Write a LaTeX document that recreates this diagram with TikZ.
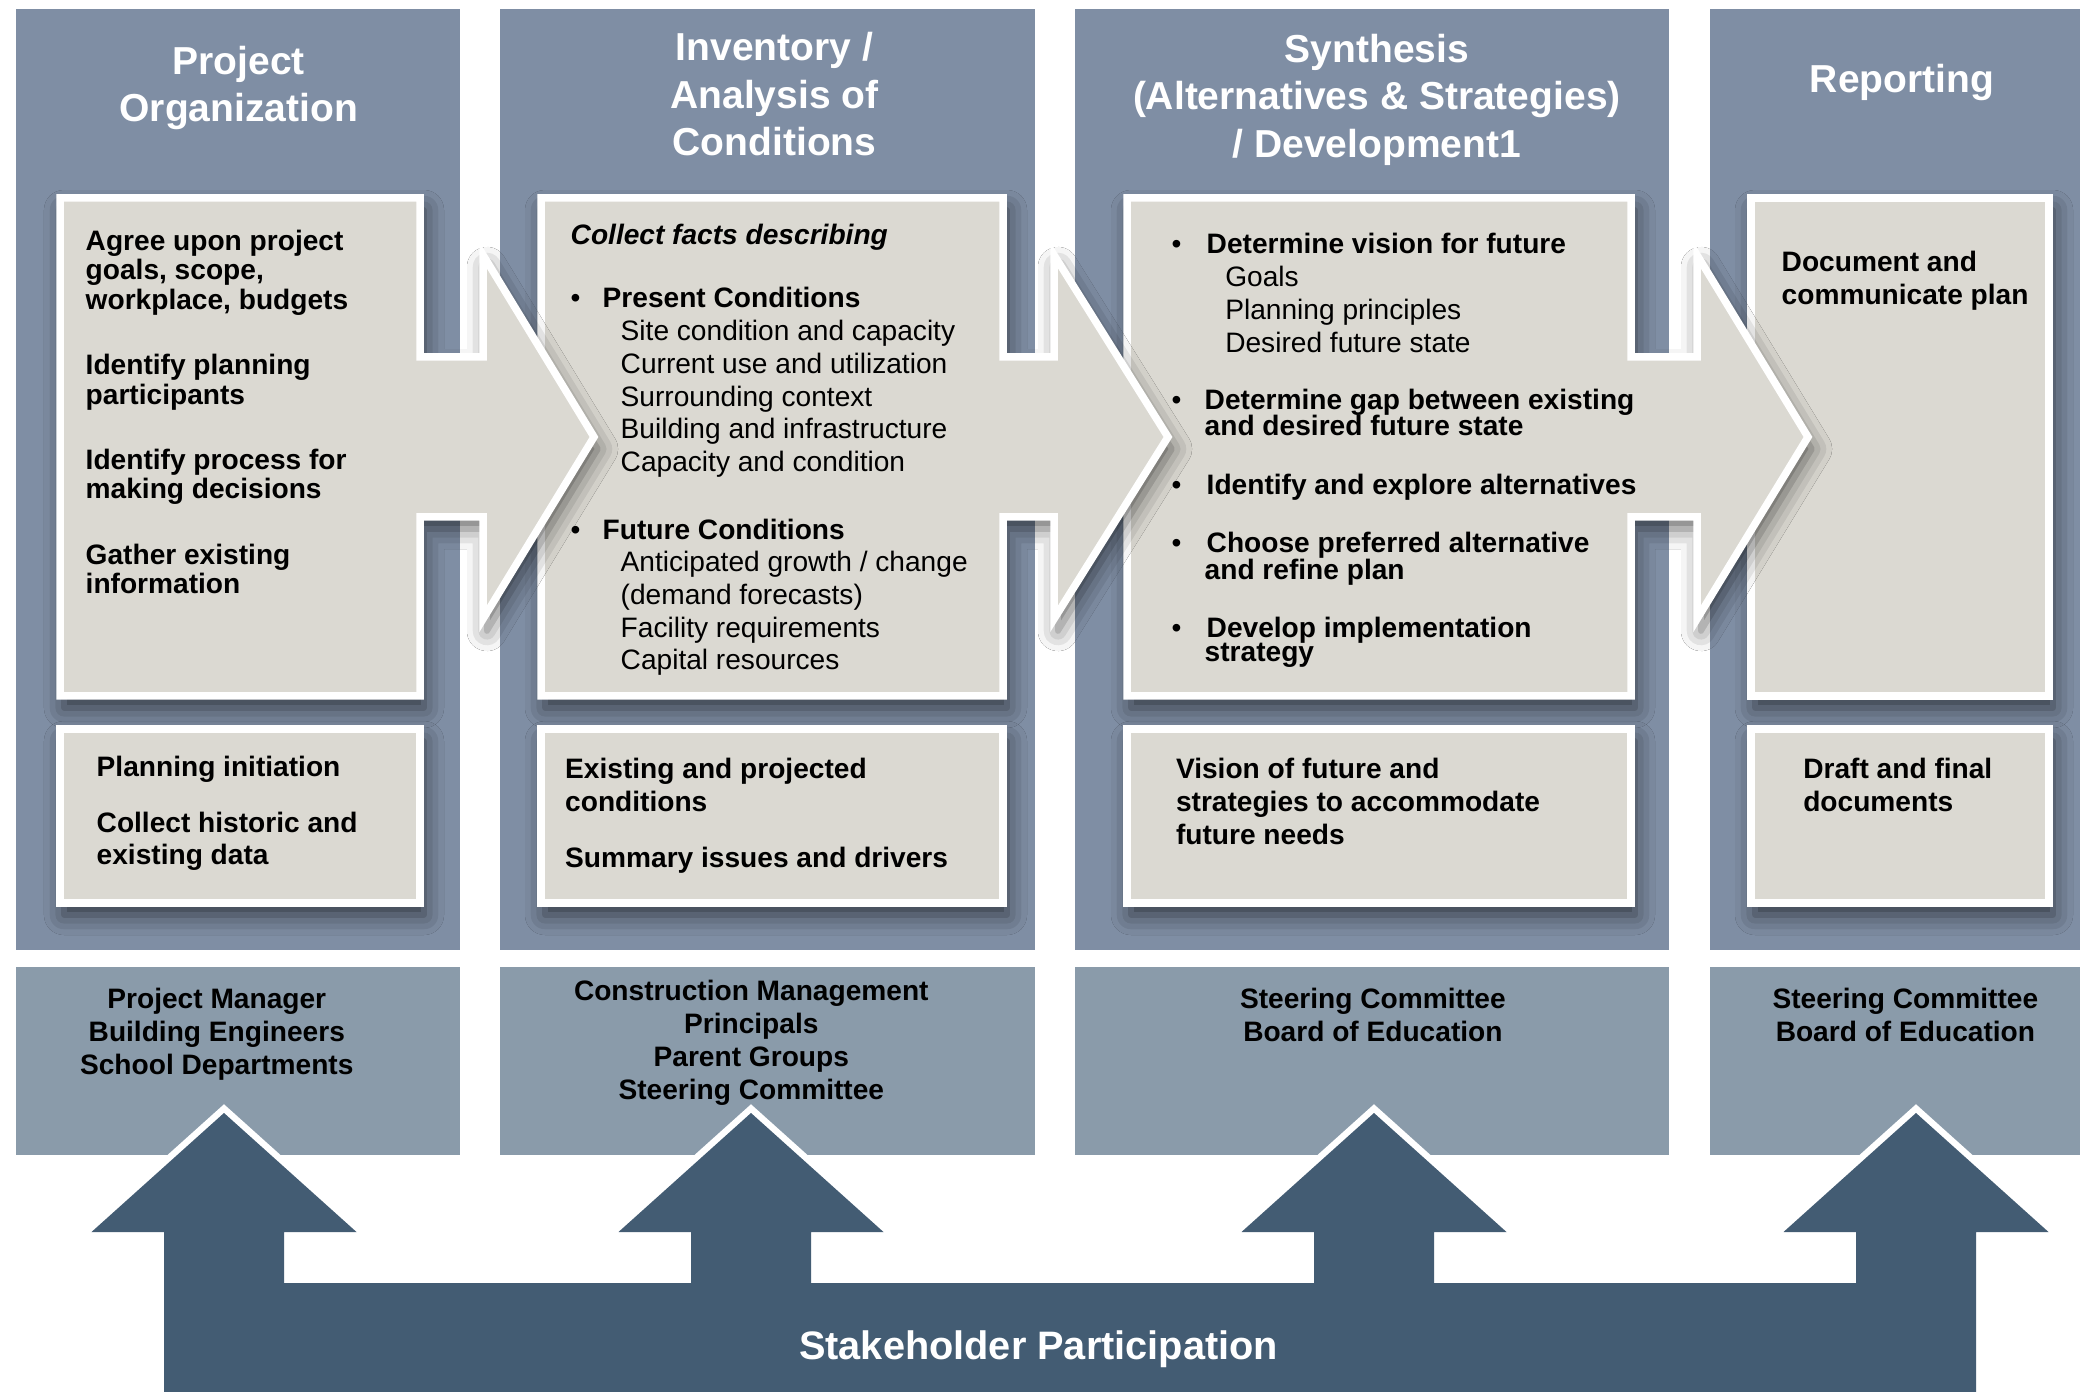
\documentclass[tikz,border=0pt]{standalone}
\usepackage{fontspec}
\setmainfont{Liberation Sans}
\usetikzlibrary{shadows.blur}
\definecolor{stagefill}{HTML}{7F8EA4}
\definecolor{crewfill}{HTML}{8A9BAA}
\definecolor{cardfill}{HTML}{DBD9D2}
\definecolor{basefill}{HTML}{435C73}
\setlength{\lineskiplimit}{-20pt}
\newcommand{\bitem}[1][0.32cm]{\makebox[#1][l]{\textbullet}}
\newcommand{\sitem}[1][0.5cm]{\hspace*{#1}}
\tikzset{
  stage/.style={fill=stagefill},
  crew/.style={fill=crewfill},
  card/.style={fill=cardfill, draw=white, line width=0.075cm,
               blur shadow={shadow xshift=0.04cm, shadow yshift=-0.12cm,
                            shadow blur radius=0.2cm, shadow opacity=60}},
  title/.style={anchor=north, align=center, inner sep=0pt, text=white,
                font=\fontsize{11.1}{13.5}\selectfont\bfseries},
  body/.style={anchor=north west, align=left, inner sep=0pt,
               font=\fontsize{8}{9.3}\selectfont\bfseries},
  who/.style={anchor=north, align=center, inner sep=0pt,
              font=\fontsize{8}{9.4}\selectfont\bfseries}
}

\begin{document}
\begin{tikzpicture}[x=1cm,y=1cm]
  \fill[white] (0,0) rectangle (20.8,-13.92);
  \useasboundingbox (0,0) rectangle (20.8,-13.92);

  % phase columns and who takes part
  \fill[stage] (0.16,-0.09) rectangle (4.60,-9.50);
  \fill[stage] (5.00,-0.09) rectangle (10.35,-9.50);
  \fill[stage] (10.745,-0.09) rectangle (16.69,-9.50);
  \fill[stage] (17.10,-0.09) rectangle (20.90,-9.50);
  \fill[crew] (0.16,-9.67) rectangle (4.60,-11.55);
  \fill[crew] (5.00,-9.67) rectangle (10.35,-11.55);
  \fill[crew] (10.745,-9.67) rectangle (16.69,-11.55);
  \fill[crew] (17.10,-9.67) rectangle (20.90,-11.55);

  % task cards, drawn right to left so each arrow head lies on the next card
  \filldraw[card] (17.51,-1.98) rectangle (20.49,-6.96);
  \filldraw[card] (11.27,-1.98) -- (16.31,-1.98) -- (16.31,-3.57) -- (16.97,-3.57)
    -- (16.97,-2.55) -- (18.08,-4.37) -- (16.97,-6.19) -- (16.97,-5.17)
    -- (16.31,-5.17) -- (16.31,-6.96) -- (11.27,-6.96) -- cycle;
  \filldraw[card] (5.41,-1.98) -- (10.03,-1.98) -- (10.03,-3.57) -- (10.54,-3.57)
    -- (10.54,-2.55) -- (11.68,-4.37) -- (10.54,-6.19) -- (10.54,-5.17)
    -- (10.03,-5.17) -- (10.03,-6.96) -- (5.41,-6.96) -- cycle;
  \filldraw[card] (0.60,-1.98) -- (4.20,-1.98) -- (4.20,-3.57) -- (4.83,-3.57)
    -- (4.83,-2.55) -- (5.94,-4.37) -- (4.83,-6.19) -- (4.83,-5.17)
    -- (4.20,-5.17) -- (4.20,-6.96) -- (0.60,-6.96) -- cycle;

  % result cards
  \filldraw[card] (0.60,-7.29) rectangle (4.20,-9.03);
  \filldraw[card] (5.41,-7.29) rectangle (10.03,-9.03);
  \filldraw[card] (11.27,-7.29) rectangle (16.31,-9.03);
  \filldraw[card] (17.51,-7.29) rectangle (20.49,-9.03);

  % stakeholder arrows, white rim kept outside the fill
  \fill[basefill, preaction={draw=white, line width=0.13cm}]
    (1.64,-14.1) -- (1.64,-12.32) -- (0.915,-12.32) -- (2.24,-11.13) -- (3.565,-12.32)
    -- (2.84,-12.32) -- (2.84,-12.83) -- (6.91,-12.83) -- (6.91,-12.32) -- (6.185,-12.32)
    -- (7.51,-11.13) -- (8.835,-12.32) -- (8.11,-12.32) -- (8.11,-12.83) -- (13.14,-12.83)
    -- (13.14,-12.32) -- (12.415,-12.32) -- (13.74,-11.13) -- (15.065,-12.32)
    -- (14.34,-12.32) -- (14.34,-12.83) -- (18.56,-12.83) -- (18.56,-12.32)
    -- (17.835,-12.32) -- (19.16,-11.13) -- (20.485,-12.32) -- (19.76,-12.32)
    -- (19.76,-14.1) -- cycle;

  \node[title] (t_org) at (2.387,-0.455) {Project\\Organization};
  \node[title] (t_inv) at (7.745,-0.32) {Inventory /\\Analysis of\\Conditions};
  \node[title] (t_syn) at (13.769,-0.334) {Synthesis\\(Alternatives \& Strategies)\\/ Development1};
  \node[title] (t_rep) at (19.02,-0.633) {Reporting};

  \node[body, font=\fontsize{8}{8.4}\selectfont\bfseries] (org_top) at (0.85,-2.29)
    {Agree upon project\\goals, scope,\\workplace, budgets\\[10.2pt]
     Identify planning\\participants\\[10.2pt]
     Identify process for\\making decisions\\[10.2pt]
     Gather existing\\information};
  \node[body, font=\fontsize{8}{9.3}\selectfont] (inv_top) at (5.70,-2.233)
    {\textbf{\textit{Collect facts describing}}\\[8.8pt]
     \bitem\textbf{Present Conditions}\\
     \sitem Site condition and capacity\\
     \sitem Current use and utilization\\
     \sitem Surrounding context\\
     \sitem Building and infrastructure\\
     \sitem Capacity and condition\\[10pt]
     \bitem\textbf{Future Conditions}\\
     \sitem Anticipated growth / change\\
     \sitem (demand forecasts)\\
     \sitem Facility requirements\\
     \sitem Capital resources};
  \node[body, font=\fontsize{8}{7.26}\selectfont] (syn_top) at (11.71,-2.32)
    {\bitem[0.35cm]\textbf{Determine vision for future}\\[2.2pt]
     \sitem[0.536cm]Goals\\[2.2pt]
     \sitem[0.536cm]Planning principles\\[2.2pt]
     \sitem[0.536cm]Desired future state\\[9pt]
     \bitem[0.33cm]\textbf{Determine gap between existing}\\
     \sitem[0.33cm]\textbf{and desired future state}\\[9.6pt]
     \bitem[0.35cm]\textbf{Identify and explore alternatives}\\[9.3pt]
     \bitem[0.35cm]\textbf{Choose preferred alternative}\\[0.4pt]
     \sitem[0.33cm]\textbf{and refine plan}\\[9.25pt]
     \bitem[0.35cm]\textbf{Develop implementation}\\[-0.6pt]
     \sitem[0.33cm]\textbf{strategy}};
  \node[body, font=\fontsize{8}{9.55}\selectfont\bfseries] (rep_top) at (17.81,-2.50)
    {Document and\\communicate plan};

  \node[body, font=\fontsize{8}{9.33}\selectfont\bfseries] (org_bot) at (0.96,-7.554)
    {Planning initiation\\[6.5pt]Collect historic and\\existing data};
  \node[body] (inv_bot) at (5.645,-7.576)
    {Existing and projected\\conditions\\[6.6pt]Summary issues and drivers};
  \node[body, font=\fontsize{8}{9.4}\selectfont\bfseries] (syn_bot) at (11.753,-7.576)
    {Vision of future and\\strategies to accommodate\\future needs};
  \node[body, font=\fontsize{8}{9.4}\selectfont\bfseries] (rep_bot) at (18.026,-7.576)
    {Draft and final\\documents};

  \node[who] (crew_org) at (2.168,-9.87) {Project Manager\\Building Engineers\\School Departments};
  \node[who] (crew_inv) at (7.513,-9.793) {Construction Management\\Principals\\Parent Groups\\Steering Committee};
  \node[who] (crew_syn) at (13.729,-9.87) {Steering Committee\\Board of Education};
  \node[who] (crew_rep) at (19.054,-9.87) {Steering Committee\\Board of Education};

  \node[anchor=base, inner sep=0pt, text=white, font=\fontsize{11.3}{13}\selectfont\bfseries]
    (stake) at (10.386,-13.59) {Stakeholder Participation};
\end{tikzpicture}
\end{document}
